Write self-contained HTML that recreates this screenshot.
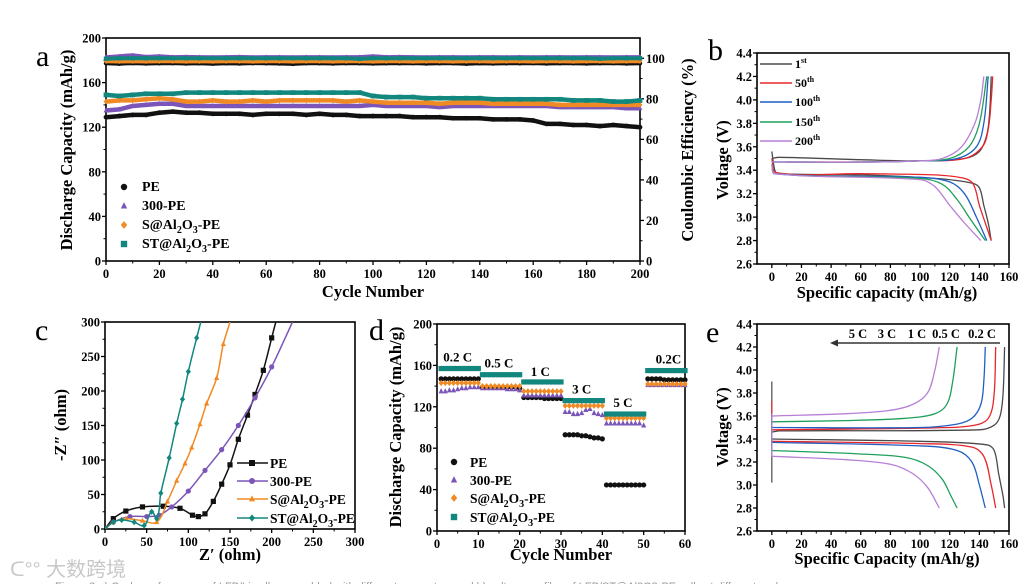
<!DOCTYPE html>
<html><head><meta charset="utf-8"><style>
html,body{margin:0;padding:0;background:#fff;}
svg{display:block;font-family:"Liberation Serif",serif;}
.tl{font-size:12.5px;font-weight:bold;}
.tt{font-size:16.5px;font-weight:bold;}
.pl{font-size:30px;}
</style></head><body>
<svg id="fig" width="1034" height="584" viewBox="0 0 1034 584" xmlns="http://www.w3.org/2000/svg">
<rect width="1034" height="584" fill="#fff"/>
<text x="36" y="66" class="pl">a</text>
<text x="708" y="60" class="pl">b</text>
<text x="35" y="340" class="pl">c</text>
<text x="369" y="340" class="pl">d</text>
<text x="706" y="342" class="pl">e</text>
<text x="10" y="576" font-family="'Liberation Sans','Noto Sans CJK SC',sans-serif" font-size="20" fill="#c8c8c8">ᑕ°° 大数跨境</text>
<text x="55" y="590" font-family="'Liberation Sans',sans-serif" font-size="11" fill="#999">Figure 3  a) Cycle performance of LFP/Li cells assembled with different separators and b) voltage profiles of LFP/ST@Al2O3-PE cells at different cycles</text>
</svg>
<script>
// ---------- Panel a data (every 5 cycles) ----------
const aCycles=[0,5,10,15,20,25,30,35,40,45,50,55,60,65,70,75,80,85,90,95,100,105,110,115,120,125,130,135,140,145,150,155,160,165,170,175,180,185,190,195,200];
const aPE=[129,130,131,131,133,134,133,133,132,132,132,131,132,132,132,131,132,131,131,130,130,130,130,129,129,129,128,128,128,127,127,127,126,123,123,122,122,121,122,121,120];
const a300=[135,136,139,140,141,141,139,139,139,139,139,139,139,139,139,139,139,139,139,139,140,139,139,139,139,138,139,139,139,139,139,139,139,139,138,138,138,138,138,137,137];
const aS=[143,144,144,145,146,145,143,143,144,143,143,144,143,144,144,144,144,144,143,144,143,142,142,142,142,141,142,142,142,141,141,141,141,141,140,140,140,140,140,140,140];
const aST=[149,148,149,150,150,150,151,151,151,151,151,151,151,151,151,151,151,151,151,151,148,147,147,147,146,146,146,146,146,145,145,145,145,145,145,144,144,144,143,143,144];
const cePE=[97.5,97.3,97.6,97.4,97.5,97.6,97.4,97.5,97.3,97.5,97.4,97.6,97.5,97.4,97.2,97.5,97.5,97.4,97.6,97.5,97.4,97.5,97.5,97.6,97.4,97.5,97.5,97.3,97.5,97.4,97.5,97.5,97.6,97.4,97.5,97.5,97.4,97.5,97.6,97.4,97.5];
const ce300=[100.5,101,101.5,100.7,101,100.6,100.7,100.6,100.5,100.6,100.7,100.5,100.6,100.6,100.5,100.6,100.6,100.5,100.6,100.6,101,100.6,100.7,100.6,100.5,100.6,100.6,100.5,100.6,100.6,100.5,100.6,100.5,100.6,100.6,100.5,100.6,100.6,100.5,100.6,100.6];
const ceS=[98.5,98.4,98.5,98.4,98.5,98.5,98.4,98.5,98.4,98.5,98.5,98.4,98.5,98.5,98.4,98.5,98.5,98.4,98.5,98.5,98.4,98.5,98.5,98.4,98.5,98.5,98.4,98.5,98.5,98.4,98.5,98.5,98.4,98.5,98.5,98.4,98.5,98.5,98.4,98.5,98.5];
const ceST=[99.8,100,100,100,100,100,100,100,100,100,100,100,100,100,100,100,100,100,100,99.7,100,100,100,100,100,100,100,100,100,100,100,100,100,100,100,100,100,99.8,100,100,100];
// ---------- Panel b data ----------
const bNames=["1st","50th","100th","150th","200th"];
const bCharge=[
 [[0,3.5],[5,3.51],[60,3.49],[100,3.48],[130,3.5],[140,3.56],[145,3.7],[147,3.9],[148,4.2]],
 [[10,3.47],[60,3.47],[100,3.48],[130,3.5],[142,3.6],[146,3.75],[148,4.0],[149,4.2]],
 [[0,3.47],[60,3.47],[100,3.48],[125,3.5],[138,3.6],[143,3.8],[146,4.2]],
 [[0,3.47],[60,3.47],[100,3.48],[120,3.5],[133,3.6],[140,3.8],[145,4.2]],
 [[0,3.47],[60,3.47],[100,3.48],[115,3.5],[128,3.6],[137,3.8],[141,4.0],[143,4.2]]];
const bDis=[
 [[0,3.56],[2,3.4],[4,3.37],[60,3.36],[110,3.33],[135,3.29],[140,3.25],[143,3.1],[146,2.95],[148,2.8]],
 [[0,3.5],[3,3.38],[60,3.37],[110,3.36],[130,3.33],[136,3.28],[140,3.1],[144,2.95],[148,2.8]],
 [[0,3.45],[2,3.37],[100,3.34],[120,3.3],[130,3.2],[138,3.0],[145,2.8]],
 [[0,3.45],[2,3.37],[100,3.33],[115,3.28],[125,3.15],[133,3.0],[144,2.8]],
 [[0,3.45],[2,3.37],[100,3.32],[110,3.26],[120,3.1],[130,2.95],[141,2.8]]];
// ---------- Panel c data ----------
const cNames=["PE","300-PE","S@Al2O3-PE","ST@Al2O3-PE"];
const cPE=[[0,0],[10,15],[25,26],[45,32],[70,33],[90,30],[105,20],[112,18],[120,22],[130,40],[140,65],[150,93],[160,130],[171,165],[180,195],[190,230],[200,277],[205,300]];
const c300=[[0,0],[10,10],[30,18],[50,18],[65,20],[80,32],[100,55],[120,85],[140,115],[160,150],[180,190],[200,235],[225,300]];
const cS=[[0,0],[10,10],[25,15],[45,12],[62,10],[75,40],[86,70],[96,95],[104,118],[114,152],[122,182],[134,219],[142,268],[150,300]];
const cST=[[0,0],[10,10],[20,13],[35,10],[47,5],[56,25],[62,15],[67,52],[77,103],[86,153],[93,188],[100,228],[110,277],[115,300]];
// ---------- Panel d data ----------
const dCycles=[1,2,3,4,5,6,7,8,9,10,11,12,13,14,15,16,17,18,19,20,21,22,23,24,25,26,27,28,29,30,31,32,33,34,35,36,37,38,39,40,41,42,43,44,45,46,47,48,49,50,51,52,53,54,55,56,57,58,59,60];
const dPE=[147,147,147,147,147,147,147,147,147,147,139,139,139,139,139,139,139,139,139,138,129,129,129,129,129,128,128,128,128,128,93,93,93,93,92,92,91,90,90,89,44.5,44.5,44.5,44.5,44.5,44.5,44.5,44.5,44.5,44.5,147,147,147,147,146,146,146,146,146,146];
const d300=[135,135,136,136,137,138,138,139,139,139,138,138,138,138,138,138,137,137,137,136,131,131,131,131,131,131,131,131,131,131,115,115,113,113,114,117,118,114,113,112,104,104,104,104,104,104,104,104,104,102,141,141,141,141,141,141,141,141,141,141];
const dS=[143,143,143,143,143,143,143,143,143,143,140,140,140,140,140,140,140,140,140,140,135,135,135,135,135,135,135,135,135,135,121,121,121,121,121,121,121,121,121,121,109,109,109,109,109,109,109,109,109,109,142,142,142,142,142,142,142,142,142,142];
const dST=[157,157,157,157,157,157,157,157,157,157,151,151,151,151,151,151,151,151,151,151,144,144,144,144,144,144,144,144,144,144,126,126,126,126,126,126,126,126,126,126,113,113,113,113,113,113,113,113,113,113,155,155,155,155,155,155,155,155,155,155];
const dRates=["0.2 C","0.5 C","1 C","3 C","5 C","0.2C"];
const dRateX=[5,15,25,35,45,56];
const dRateY=[164,158,150,133,120,162];
// ---------- Panel e data ----------
const eNames=["0.2 C","0.5 C","1 C","3 C","5 C"];
const eCharge=[
 [[0,3.46],[5,3.47],[140,3.48],[150,3.52],[154,3.6],[156,3.8],[157,4.2]],
 [[0,3.48],[120,3.5],[140,3.53],[147,3.6],[150,3.8],[151,4.2]],
 [[0,3.5],[100,3.5],[125,3.53],[135,3.58],[141,3.7],[143,3.9],[144,4.2]],
 [[0,3.55],[50,3.56],[90,3.58],[110,3.62],[118,3.7],[122,3.9],[125,4.2]],
 [[0,3.6],[50,3.62],[80,3.65],[95,3.7],[105,3.8],[110,4.0],[113,4.2]]];
const eDis=[
 [[0,3.4],[100,3.38],[145,3.35],[150,3.3],[153,3.1],[156,2.9],[157,2.8]],
 [[0,3.38],[100,3.36],[135,3.33],[143,3.25],[148,3.0],[151,2.8]],
 [[0,3.37],[100,3.34],[125,3.3],[135,3.2],[140,3.0],[144,2.8]],
 [[0,3.3],[60,3.27],[90,3.24],[105,3.17],[115,3.05],[121,2.9],[125,2.8]],
 [[0,3.25],[50,3.22],[80,3.18],[95,3.1],[105,2.98],[113,2.8]]];
const eSpikeLo=[3.02,3.3,3.35,3.3,3.25];
const eSpikeHi=[3.9,3.73,3.62,3.58,3.62];
const eLabels=["5 C","3 C","1 C","0.5 C","0.2 C"];

const NS="http://www.w3.org/2000/svg";
const svg=document.getElementById('fig');
function mk(tag,attrs,parent){const e=document.createElementNS(NS,tag);for(const k in attrs)e.setAttribute(k,attrs[k]);(parent||svg).appendChild(e);return e;}
function lin(d0,d1,r0,r1){return v=>r0+(v-d0)*(r1-r0)/(d1-d0);}
const lineCols=["#4a4a4a","#e8262a","#1f5fc4","#1ea05a","#b77fd6"];

function axes(o){
 const g=mk('g',{});
 
 
 const sx=lin(o.xd[0],o.xd[1],o.px[0],o.px[1]);
 const sy=lin(o.yd[0],o.yd[1],o.py[0],o.py[1]);
 const fr=mk('rect',{x:o.px[0],y:o.py[1],width:o.px[1]-o.px[0],height:o.py[0]-o.py[1],fill:'none',stroke:'#000','stroke-width':1.6},g);
 
 
 for(const t of o.xt){const x=sx(t);mk('line',{x1:x,x2:x,y1:o.py[0],y2:o.py[0]+4,stroke:'#000','stroke-width':1.3},g);
  const tx=mk('text',{x:x,y:o.py[0]+17,'text-anchor':'middle',class:'tl'},g);tx.textContent=t;
  
  }
 for(let i=0;i<o.xt.length-1;i++){const x=sx((o.xt[i]+o.xt[i+1])/2);mk('line',{x1:x,x2:x,y1:o.py[0],y2:o.py[0]+2.5,stroke:'#000','stroke-width':1},g);}
 for(const t of o.yt){const y=sy(t);mk('line',{x1:o.px[0]-4,x2:o.px[0],y1:y,y2:y,stroke:'#000','stroke-width':1.3},g);
  const tx=mk('text',{x:o.px[0]-5,y:y+4.5,'text-anchor':'end',class:'tl'},g);tx.textContent=o.yfmt?o.yfmt(t):t;
  
  }
 for(let i=0;i<o.yt.length-1;i++){const y=sy((o.yt[i]+o.yt[i+1])/2);mk('line',{x1:o.px[0]-2.5,x2:o.px[0],y1:y,y2:y,stroke:'#000','stroke-width':1},g);}
 const xt=mk('text',{x:o.xl[0],y:o.xl[1],'text-anchor':'middle',class:'tt'},g);xt.textContent=o.xlab;
 
 
 const yt=mk('text',{x:0,y:0,'text-anchor':'middle',class:'tt',transform:`translate(${o.yl[0]},${o.yl[1]}) rotate(-90)`},g);yt.innerHTML=o.ylab;
 
 
 return {sx,sy};
}
function marker(type,x,y,col,r,parent){
 let e;
 if(type==='circle')e=mk('circle',{cx:x,cy:y,r:r,fill:col},parent);
 else if(type==='tri')e=mk('polygon',{points:`${x},${y-r*1.2} ${x-r},${y+r*0.8} ${x+r},${y+r*0.8}`,fill:col},parent);
 else if(type==='diamond')e=mk('polygon',{points:`${x},${y-r*1.2} ${x+r},${y} ${x},${y+r*1.2} ${x-r},${y}`,fill:col},parent);
 else e=mk('rect',{x:x-r,y:y-r,width:2*r,height:2*r,fill:col},parent);
 return e;
}
function pathOf(pts,sx,sy){return pts.map((p,i)=>(i?'L':'M')+sx(p[0]).toFixed(1)+','+sy(p[1]).toFixed(1)).join(' ');}
// smooth path through data points; handle length limited by segment length (no overshoot)
function smoothOf(pts,sx,sy){
 const P=pts.map(p=>[sx(p[0]),sy(p[1])]);
 const n=P.length;
 const T=P.map((p,i)=>{const a=P[Math.max(0,i-1)],b=P[Math.min(n-1,i+1)];const dx=b[0]-a[0],dy=b[1]-a[1];const L=Math.hypot(dx,dy)||1;return [dx/L,dy/L];});
 let d='M'+P[0][0].toFixed(1)+','+P[0][1].toFixed(1);
 for(let i=0;i<n-1;i++){
  const p1=P[i],p2=P[i+1];const L=Math.hypot(p2[0]-p1[0],p2[1]-p1[1])/3;
  const c1=[p1[0]+T[i][0]*L,p1[1]+T[i][1]*L];
  const c2=[p2[0]-T[i+1][0]*L,p2[1]-T[i+1][1]*L];
  d+=` C${c1[0].toFixed(1)},${c1[1].toFixed(1)} ${c2[0].toFixed(1)},${c2[1].toFixed(1)} ${p2[0].toFixed(1)},${p2[1].toFixed(1)}`;
 }
 return d;
}
const sub='<tspan font-size="10" dy="4">2</tspan><tspan dy="-4">O</tspan><tspan font-size="10" dy="4">3</tspan><tspan dy="-4">-PE</tspan>';

// ===== Panel a =====
(function(){
 const A=axes({name:'panel-a',px:[106,640],py:[261,38],xd:[0,200],yd:[0,200],xt:[0,20,40,60,80,100,120,140,160,180,200],yt:[0,40,80,120,160,200],xlab:'Cycle Number',xl:[373,297],ylab:'Discharge Capacity (mAh/g)',yl:[72,150]});
 const syR=lin(0,110,261,38);
 const g=mk('g',{});
 
 
 for(const t of [0,20,40,60,80,100]){const y=syR(t);mk('line',{x1:640,x2:644,y1:y,y2:y,stroke:'#000','stroke-width':1.3},g);
  const tx=mk('text',{x:646,y:y+4.5,class:'tl'},g);tx.textContent=t;}
 for(const t of [10,30,50,70,90]){const y=syR(t);mk('line',{x1:640,x2:642.5,y1:y,y2:y,stroke:'#000'},g);}
 const rt=mk('text',{x:0,y:0,'text-anchor':'middle',class:'tt',transform:'translate(693,150) rotate(-90)'},g);rt.textContent='Coulombic Efficiency (%)';
 
 
 const series=[[aPE,cePE,'#111','circle','PE'],[a300,ce300,'#7b55b8','tri','300-PE'],[aS,ceS,'#f08a24','diamond','S@Al2O3-PE'],[aST,ceST,'#12877e','sq','ST@Al2O3-PE']];
 series.forEach((s,k)=>{
  const sg=mk('g',{});
  
  
  const cap=aCycles.map((c,i)=>[c,s[0][i]]);
  mk('path',{d:pathOf(cap,A.sx,A.sy),fill:'none',stroke:s[2],'stroke-width':4.5},sg);
  const ce=aCycles.map((c,i)=>[c,s[1][i]]);
  mk('path',{d:pathOf(ce,A.sx,syR),fill:'none',stroke:s[2],'stroke-width':4},sg);
  aCycles.forEach((c,i)=>{marker(s[3],A.sx(c),A.sy(s[0][i]),s[2],2.4,sg);marker(s[3],A.sx(c),syR(s[1][i]),s[2],2.2,sg);});
  const ly=[191,210,229,248][k];
  const lm=marker(s[3],124,ly-4,s[2],3.2,svg);
  
  
  const lt=mk('text',{x:142,y:ly,'font-size':14,'font-weight':'bold'});
  lt.innerHTML=k<2?s[4]:(k==2?'S@Al':'ST@Al')+sub;
  
  
 });
})();

// ===== Panel b =====
(function(){
 const B=axes({name:'panel-b',px:[757,1009],py:[264,53],xd:[-10,160],yd:[2.6,4.4],xt:[0,20,40,60,80,100,120,140,160],yt:[2.6,2.8,3.0,3.2,3.4,3.6,3.8,4.0,4.2,4.4],yfmt:v=>v.toFixed(1),xlab:'Specific capacity (mAh/g)',xl:[887,298],ylab:'Voltage (V)',yl:[728,160]});
 bNames.forEach((n,k)=>{
  const p1=mk('path',{d:smoothOf(bCharge[k],B.sx,B.sy),fill:'none',stroke:lineCols[k],'stroke-width':1.3});
  
  
  const p2=mk('path',{d:smoothOf(bDis[k],B.sx,B.sy),fill:'none',stroke:lineCols[k],'stroke-width':1.3});
  
  
  const y=[64,83,102,122,141][k];
  const ll=mk('line',{x1:760,x2:792,y1:y,y2:y,stroke:lineCols[k],'stroke-width':1.5});
  
  
  const t=mk('text',{x:795,y:y+4,'font-size':12,'font-weight':'bold'});
  t.innerHTML=n.replace(/(st|th)$/,'<tspan font-size="8" dy="-5">$1</tspan>');
  
  
 });
})();

// ===== Panel c =====
(function(){
 const C=axes({name:'panel-c',px:[105,355],py:[529,322],xd:[0,300],yd:[0,300],xt:[0,50,100,150,200,250,300],yt:[0,50,100,150,200,250,300],xlab:'Z\u2032 (ohm)',xl:[230,560],ylab:'-Z\u2033 (ohm)',yl:[66,425]});
 const series=[[cPE,'#111','sq'],[c300,'#7b55b8','circle'],[cS,'#f08a24','tri'],[cST,'#12877e','diamond']];
 series.forEach((s,k)=>{
  const g=mk('g',{'clip-path':'url(#clipc)'});
  
  
  mk('path',{d:smoothOf(s[0],C.sx,C.sy),fill:'none',stroke:s[1],'stroke-width':1.5},g);
  s[0].forEach(p=>{if(p[1]<300)marker(s[2],C.sx(p[0]),C.sy(p[1]),s[1],2.6,g);});
  const y=[463,481,499,518][k];
  const lg=mk('g',{});
  
  
  mk('line',{x1:237,x2:268,y1:y,y2:y,stroke:s[1],'stroke-width':1.5},lg);
  marker(s[2],252,y,s[1],3,lg);
  const t=mk('text',{x:270,y:y+5,'font-size':13.5,'font-weight':'bold'},lg);
  t.innerHTML=k<2?cNames[k]:(k==2?'S@Al':'ST@Al')+sub;
 });
})();

// ===== Panel d =====
(function(){
 const D=axes({name:'panel-d',px:[437,685],py:[531,324],xd:[0,60],yd:[0,200],xt:[0,10,20,30,40,50,60],yt:[0,40,80,120,160,200],xlab:'Cycle Number',xl:[561,560],ylab:'Discharge Capacity (mAh/g)',yl:[401,427]});
 const series=[[dPE,'#111','circle','PE'],[d300,'#7b55b8','tri','300-PE'],[dS,'#f08a24','diamond','S@Al2O3-PE'],[dST,'#12877e','sq','ST@Al2O3-PE']];
 series.forEach((s,k)=>{
  const g=mk('g',{});
  
  
  dCycles.forEach((c,i)=>marker(s[2],D.sx(c),D.sy(s[0][i]),s[1],2.6,g));
  const y=[466,484,502,521][k];
  const lm=marker(s[2],454,y-4,s[1],3.2,svg);
  
  
  const t=mk('text',{x:470,y:y+1,'font-size':13.5,'font-weight':'bold'});
  t.innerHTML=k<2?s[3]:(k==2?'S@Al':'ST@Al')+sub;
  
  
 });
 dRates.forEach((r,i)=>{
  const t=mk('text',{x:D.sx(dRateX[i]),y:D.sy(dRateY[i]),'text-anchor':'middle','font-size':13,'font-weight':'bold'});
  t.textContent=r;
  
  
 });
})();

// ===== Panel e =====
(function(){
 const E=axes({name:'panel-e',px:[757,1009],py:[531,324],xd:[-10,160],yd:[2.6,4.4],xt:[0,20,40,60,80,100,120,140,160],yt:[2.6,2.8,3.0,3.2,3.4,3.6,3.8,4.0,4.2,4.4],yfmt:v=>v.toFixed(1),xlab:'Specific Capacity (mAh/g)',xl:[887,564],ylab:'Voltage (V)',yl:[728,427]});
 eNames.forEach((n,k)=>{
  const p1=mk('path',{d:smoothOf(eCharge[k],E.sx,E.sy),fill:'none',stroke:lineCols[k],'stroke-width':1.3});
  
  
  const p2=mk('path',{d:smoothOf(eDis[k],E.sx,E.sy),fill:'none',stroke:lineCols[k],'stroke-width':1.3});
  
  
  const sp=mk('line',{x1:E.sx(0),x2:E.sx(0),y1:E.sy(eSpikeLo[k]),y2:E.sy(eSpikeHi[k]),stroke:lineCols[k],'stroke-width':1.2});
  
  
 });
 const lx=[858,887,917,946,982];
 eLabels.forEach((l,i)=>{
  const t=mk('text',{x:lx[i],y:338,'text-anchor':'middle','font-size':12.5,'font-weight':'bold'});
  t.textContent=l;
  
  
 });
 const ar=mk('line',{x1:1000,x2:836,y1:343,y2:343,stroke:'#333','stroke-width':1.5});
 
 
 const ah=mk('polygon',{points:'830,343 838,339.5 838,346.5',fill:'#333'});
 
 
})();
const defs=mk('defs',{});
const cp=mk('clipPath',{id:'clipc'},defs);
mk('rect',{x:105,y:322,width:250,height:207},cp);
</script>
</body></html>
